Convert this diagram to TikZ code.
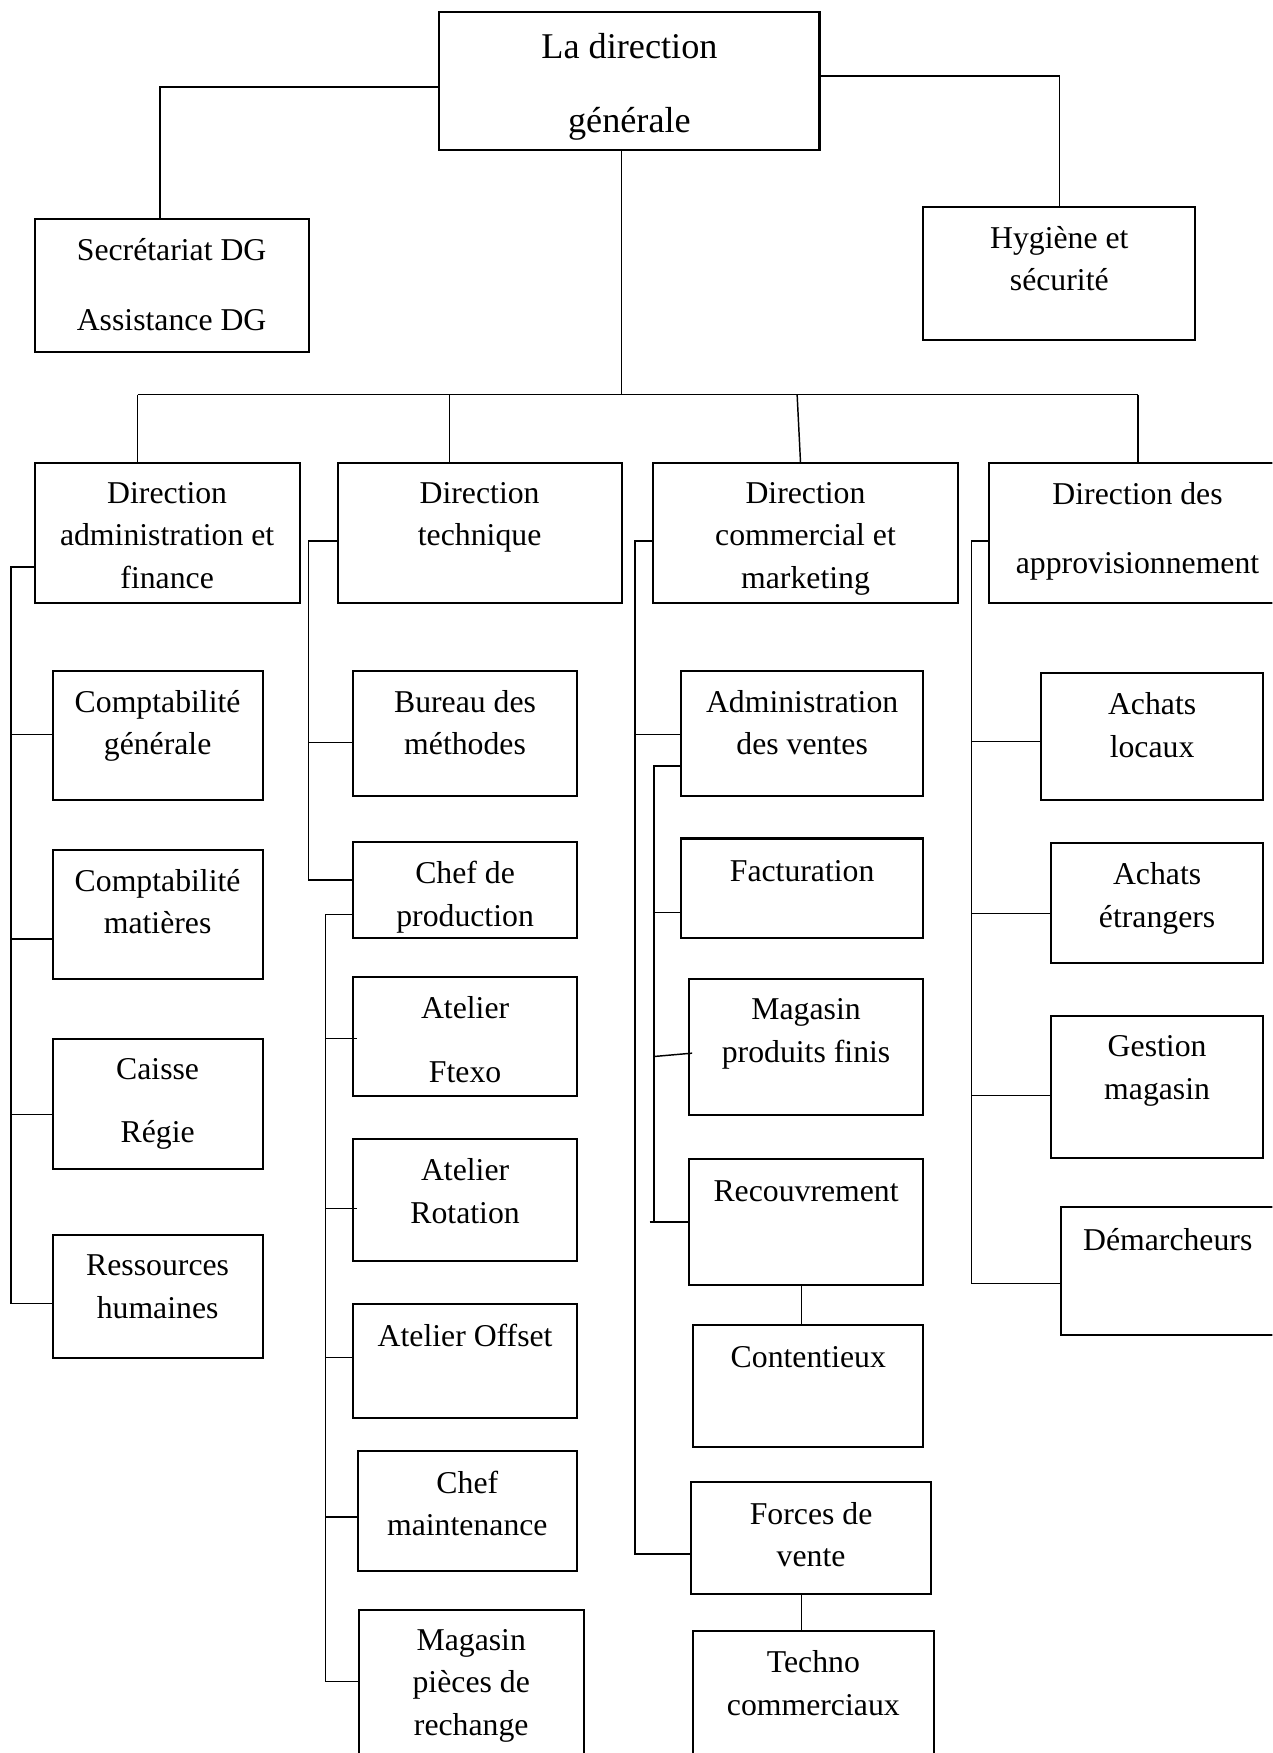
\documentclass[tikz,border=0pt]{standalone}
\usepackage{fontspec}
\setmainfont{Liberation Serif}
\usetikzlibrary{positioning, fit, calc}
\newcommand\lblfont{\fontsize{14.2}{19}\selectfont}
\newcommand\titlefont{\fontsize{16.2}{20}\selectfont}
\tikzset{
  orgbox/.style={draw, line width=0.9pt, inner sep=0pt},
  lbl/.style={anchor=north, align=center, inner sep=0pt, font=\lblfont,
    execute at begin node={\rule{0pt}{13.3pt}}},
  link/.style={line width=0.65pt},
}

\begin{document}
\begin{tikzpicture}[x=0.5pt, y=-0.5pt]
\useasboundingbox (0,0) rectangle (1138,1568);
\clip (0,0) rectangle (1138,1568);

% top level
\node[orgbox, fit={(393,11) (733,134)}] (dg) {};
\node[lbl, font=\titlefont, execute at begin node={\rule{0pt}{14pt}}, below=9.5pt of dg.north] (dg-t) {La direction\\[13.4pt]générale};
\node[orgbox, fit={(31,196) (276,315)}] (sec) {};
\node[lbl, below=9pt of sec.north] (sec-t) {Secrétariat DG\\[12pt]Assistance DG};
\node[orgbox, fit={(826,185) (1069,304)}] (hyg) {};
\node[lbl, below=9pt of hyg.north] (hyg-t) {Hygiène et\\sécurité};

% directions
\node[orgbox, fit={(31,414) (268,539)}] (d1) {};
\node[lbl, below=9pt of d1.north] (d1-t) {Direction\\administration et\\finance};
\node[orgbox, fit={(302,414) (556,539)}] (d2) {};
\node[lbl, below=9pt of d2.north] (d2-t) {Direction\\technique};
\node[orgbox, fit={(584,414) (857,539)}] (d3) {};
\node[lbl, below=9pt of d3.north] (d3-t) {Direction\\commercial et\\marketing};
\node[orgbox, fit={(885,414) (1150,539)}] (d4) {};
\node[lbl, below=9pt of d4.north] (d4-t) {Direction des\\[12pt]approvisionnement};

% administration et finance
\node[orgbox, fit={(47,600) (235,716)}] (cg) {};
\node[lbl, below=9pt of cg.north] (cg-t) {Comptabilité\\générale};
\node[orgbox, fit={(47,760) (235,876)}] (cm) {};
\node[lbl, below=9pt of cm.north] (cm-t) {Comptabilité\\matières};
\node[orgbox, fit={(47,929) (235,1046)}] (cr) {};
\node[lbl, below=9pt of cr.north] (cr-t) {Caisse\\[9.5pt]Régie};
\node[orgbox, fit={(47,1105) (235,1215)}] (rh) {};
\node[lbl, below=9pt of rh.north] (rh-t) {Ressources\\humaines};

% technique
\node[orgbox, fit={(316,600) (516,712)}] (bm) {};
\node[lbl, below=9pt of bm.north] (bm-t) {Bureau des\\méthodes};
\node[orgbox, fit={(316,753) (516,839)}] (cp) {};
\node[lbl, below=9pt of cp.north] (cp-t) {Chef de\\production};
\node[orgbox, fit={(316,874) (516,980)}] (af) {};
\node[lbl, below=9pt of af.north] (af-t) {Atelier\\[9.5pt]Ftexo};
\node[orgbox, fit={(316,1019) (516,1128)}] (ar) {};
\node[lbl, below=9pt of ar.north] (ar-t) {Atelier\\Rotation};
\node[orgbox, fit={(316,1166) (516,1268)}] (ao) {};
\node[lbl, below=6pt of ao.north] (ao-t) {Atelier Offset};
\node[orgbox, fit={(320,1298) (516,1405)}] (chm) {};
\node[lbl, below=9pt of chm.north] (chm-t) {Chef\\maintenance};
\node[orgbox, fit={(321,1440) (522,1600)}] (mp) {};
\node[lbl, below=9pt of mp.north] (mp-t) {Magasin\\pièces de\\rechange};

% commercial et marketing
\node[orgbox, fit={(609,600) (826,712)}] (av) {};
\node[lbl, below=9pt of av.north] (av-t) {Administration\\des ventes};
\node[orgbox, fit={(609,750) (826,839)}] (fa) {};
\node[lbl, below=6pt of fa.north] (fa-t) {Facturation};
\node[orgbox, fit={(616,876) (826,997)}] (mf) {};
\node[lbl, below=9pt of mf.north] (mf-t) {Magasin\\produits finis};
\node[orgbox, fit={(616,1037) (826,1149)}] (rc) {};
\node[lbl, below=6pt of rc.north] (rc-t) {Recouvrement};
\node[orgbox, fit={(620,1185) (826,1294)}] (ct) {};
\node[lbl, below=6pt of ct.north] (ct-t) {Contentieux};
\node[orgbox, fit={(618,1326) (833,1426)}] (fv) {};
\node[lbl, below=9pt of fv.north] (fv-t) {Forces de\\vente};
\node[orgbox, fit={(620,1459) (835,1600)}] (tc) {};
\node[lbl, below=9pt of tc.north] (tc-t) {Techno\\commerciaux};

% approvisionnement
\node[orgbox, fit={(931,602) (1130,716)}] (al) {};
\node[lbl, below=9pt of al.north] (al-t) {Achats\\locaux};
\node[orgbox, fit={(940,754) (1130,861)}] (ae) {};
\node[lbl, below=9pt of ae.north] (ae-t) {Achats\\étrangers};
\node[orgbox, fit={(940,909) (1130,1036)}] (gm) {};
\node[lbl, below=9pt of gm.north] (gm-t) {Gestion\\magasin};
\node[orgbox, fit={(949,1080) (1140,1194)}] (dm) {};
\node[lbl, below=6pt of dm.north] (dm-t) {Démarcheurs};

% links from the top
\draw[link] (dg.west |- 0,78) -| (sec.north -| 143,0);
\draw[link] (dg.east |- 0,68) -| (hyg.north);
\coordinate (bus) at (556,353);
\draw[link] (dg.south -| bus) -- (bus);
\draw[link] (bus -| 123,0) -- (bus -| 1018,0);
\foreach \n/\x in {d1/123, d2/402, d4/1018}
  \draw[link] (bus -| \x,0) -- (\n.north -| \x,0);
\draw[link] (bus -| 713,0) -- (d3.north -| 716,0);

% column 1
\coordinate (t1) at (10,507);
\draw[link] (d1.west |- t1) -- (t1) |- (rh.west |- 0,1166);
\foreach \n/\y in {cg/657, cm/840, cr/997}
  \draw[link] (t1 |- 0,\y) -- (\n.west |- 0,\y);

% column 2
\coordinate (t2) at (276,484);
\draw[link] (d2.west |- t2) -- (t2) |- (cp.west |- 0,787);
\draw[link] (t2 |- 0,664) -- (bm.west |- 0,664);
\coordinate (t2b) at (291,818);
\draw[link] (cp.west |- t2b) -- (t2b) |- (mp.west |- 0,1504);
\foreach \n/\y/\d in {af/929/4, ar/1081/4, ao/1214/0, chm/1357/2}
  \draw[link] (t2b |- 0,\y) -- (\n.west |- 0,\y) -- ++(\d,0);

% column 3
\coordinate (t3) at (568,484);
\draw[link] (d3.west |- t3) -- (t3) |- (fv.west |- 0,1390);
\draw[link] (t3 |- 0,657) -- (av.west |- 0,657);
\coordinate (t3b) at (585,685);
\draw[link] (av.west |- t3b) -- (t3b) -- (t3b |- 0,1093);
\draw[link] (t3b |- 0,816) -- (fa.west |- 0,816);
\draw[link] (t3b |- 0,945) -- ($(mf.west |- 0,942)+(4,0)$);
\draw[link] ($(t3b |- 0,1093)+(-4,0)$) -- (rc.west |- 0,1093);
\draw[link] (rc.south -| 717,0) -- (ct.north -| 717,0);
\draw[link] (fv.south -| 717,0) -- (tc.north -| 717,0);

% column 4
\coordinate (t4) at (869,484);
\draw[link] (d4.west |- t4) -- (t4) |- (dm.west |- 0,1148);
\foreach \n/\y in {al/663, ae/817, gm/980}
  \draw[link] (t4 |- 0,\y) -- (\n.west |- 0,\y);
\end{tikzpicture}
\end{document}
